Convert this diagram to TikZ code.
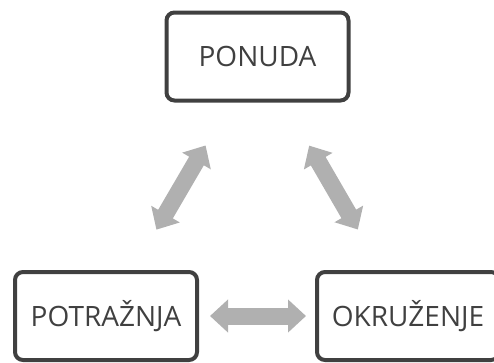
\documentclass[tikz,border=0pt]{standalone}
\usepackage{fontspec}
\setmainfont{Open Sans}
\usepackage{tikz}
\usetikzlibrary{arrows.meta,positioning,calc}
\definecolor{boxgray}{HTML}{404040}
\definecolor{arrowgray}{HTML}{B0B0B0}

\begin{document}
\begin{tikzpicture}[x=1pt,y=-1pt,
        faktor/.style={draw=boxgray, line width=4pt, rounded corners=8pt,
            minimum width=182pt, minimum height=88pt, inner sep=0pt,
            text=boxgray, font=\fontsize{28}{34}\selectfont},
        veza/.style={draw=arrowgray, line width=17pt,
            {Triangle[length=18pt,width=32pt]}-{Triangle[length=18pt,width=32pt]}}]
        \useasboundingbox (0,0) rectangle (494,362);
        \node[faktor] (ponuda) at (257.5,56.5) {PONUDA};
        \node[faktor] (potraznja) at (106,316) {POTRAŽNJA};
        \node[faktor] (okruzenje) at (408,316) {OKRUŽENJE};
        \draw[veza, shorten <=103pt, shorten >=100pt]
            (ponuda.center) -- (potraznja.center);
        \draw[veza, shorten <=103pt, shorten >=100pt]
            (ponuda.center) -- (okruzenje.center);
        \draw[veza, shorten <=104pt, shorten >=102pt]
            (potraznja.center) -- (okruzenje.center);
    \end{tikzpicture}
\end{document}
